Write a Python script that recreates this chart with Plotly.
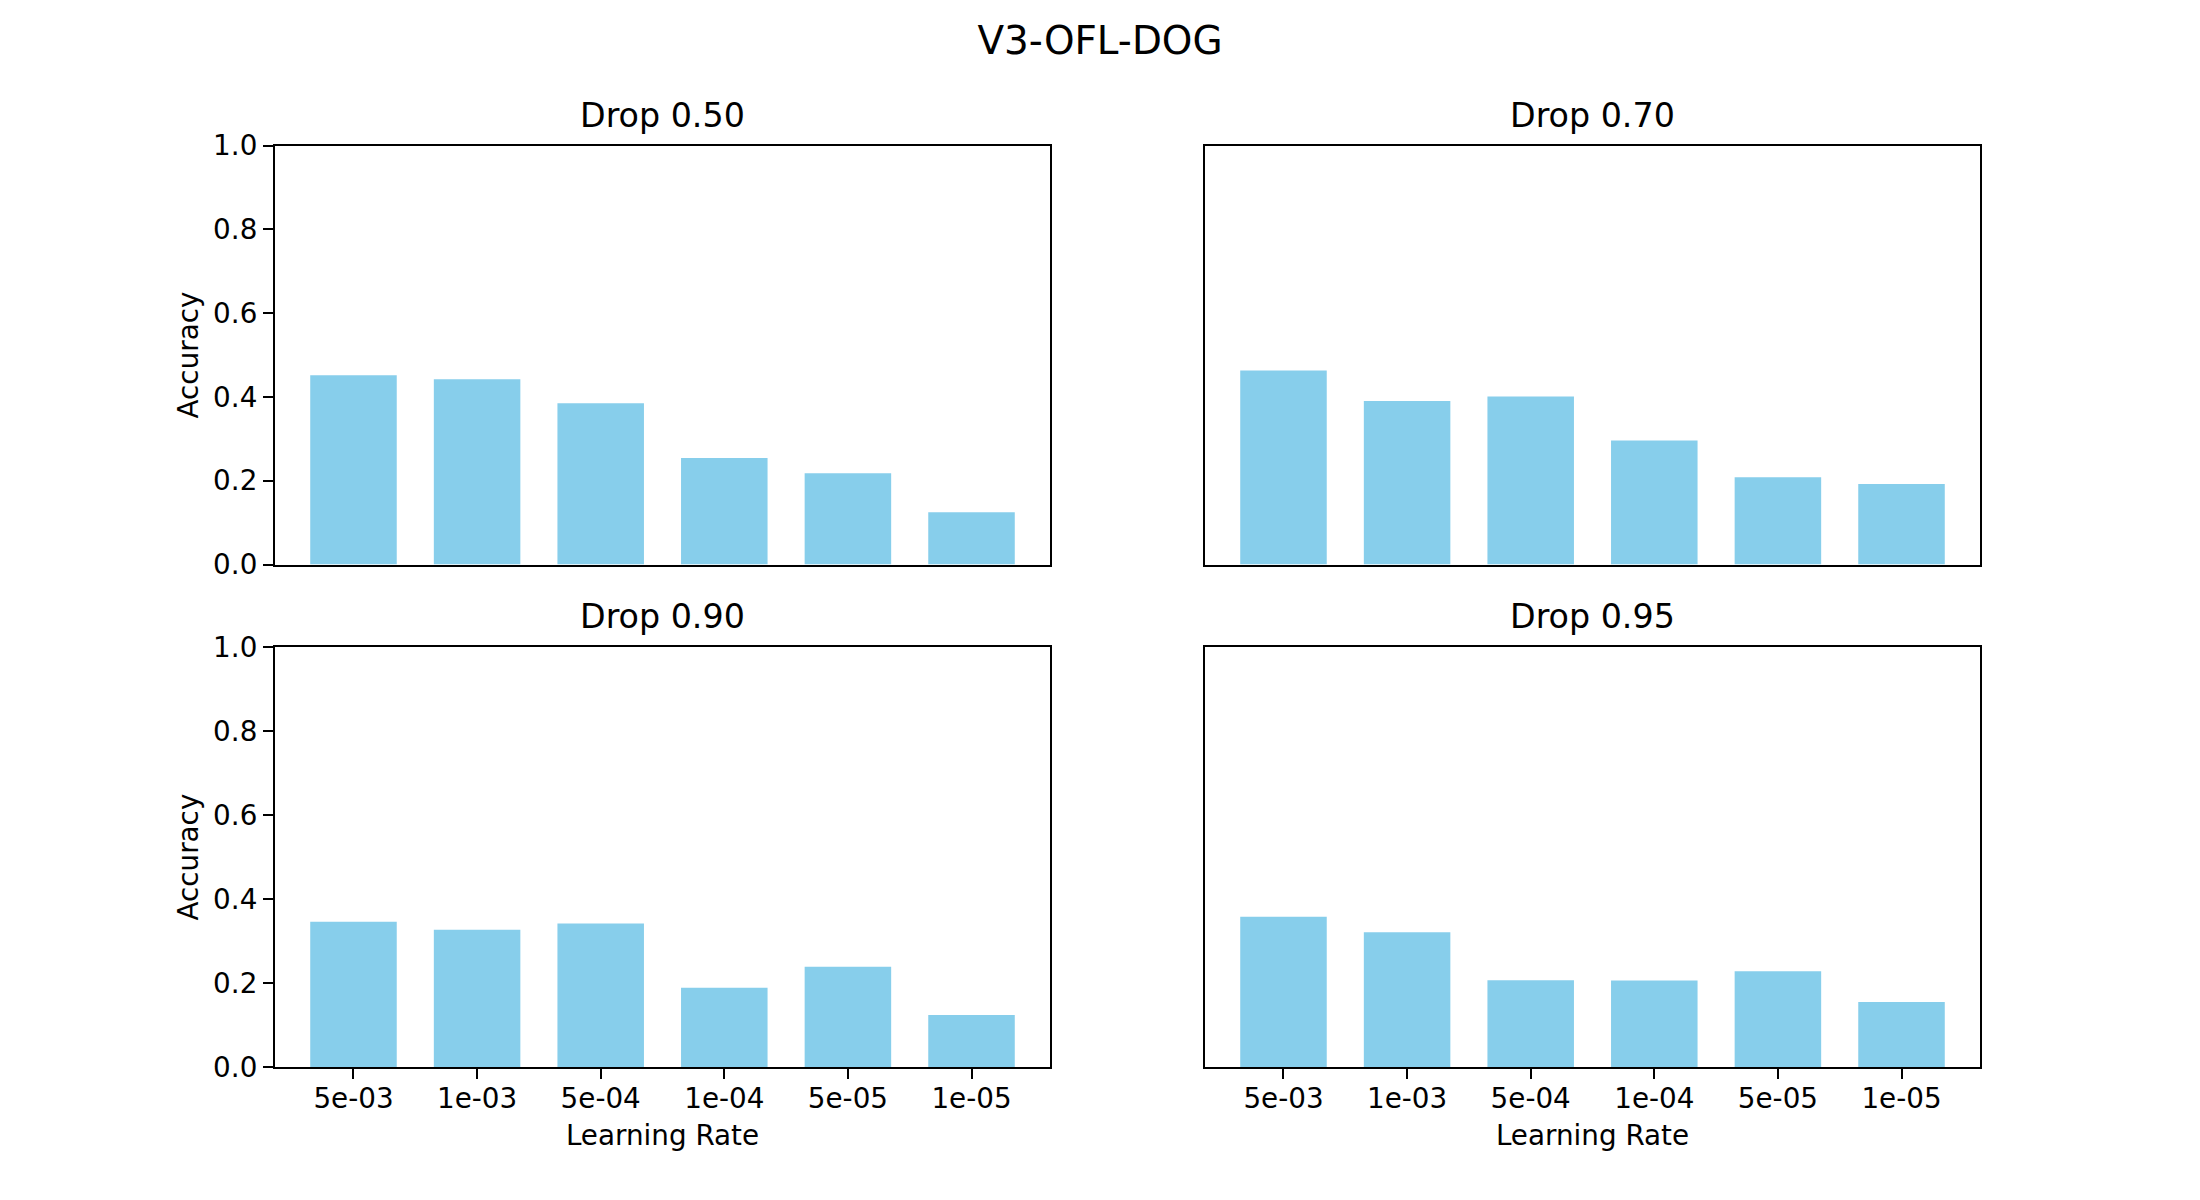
import plotly.graph_objects as go

# learning rates on the x axis
lr_labels = ["5e-03", "1e-03", "5e-04", "1e-04", "5e-05", "1e-05"]

# accuracy per dropout rate
acc_drop_050 = [0.452, 0.442, 0.385, 0.254, 0.218, 0.125]
acc_drop_070 = [0.463, 0.390, 0.401, 0.296, 0.208, 0.192]
acc_drop_090 = [0.346, 0.327, 0.342, 0.189, 0.239, 0.124]
acc_drop_095 = [0.358, 0.321, 0.207, 0.206, 0.228, 0.155]

panel_titles = ["Drop 0.50", "Drop 0.70", "Drop 0.90", "Drop 0.95"]
panel_values = [acc_drop_050, acc_drop_070, acc_drop_090, acc_drop_095]
y_ticks = [0.0, 0.2, 0.4, 0.6, 0.8, 1.0]

FONT = "DejaVu Sans"
BAR_COLOR = "#87CEEB"

# page is 2200x1200, body margin is 8px, so the figure itself is 16px smaller
PAGE_W, PAGE_H, BODY = 2200, 1200, 8
W, H = PAGE_W - 2 * BODY, PAGE_H - 2 * BODY


def px_x(p):
    return (p - BODY) / W


def px_y(p):
    return 1 - (p - BODY) / H


# axes boxes in page pixels
x_doms = [[px_x(275), px_x(1050)], [px_x(1205), px_x(1980)]]
y_doms = [[px_y(564), px_y(133)], [px_y(1081), px_y(649)]]

fig = go.Figure()
layout = {}
annotations = []

for i, (title, vals) in enumerate(zip(panel_titles, panel_values)):
    row, col = divmod(i, 2)
    n = i + 1
    xa = "x" if n == 1 else f"x{n}"
    ya = "y" if n == 1 else f"y{n}"
    fig.add_trace(go.Bar(
        x=lr_labels, y=vals, width=0.7,
        marker=dict(color=BAR_COLOR, line=dict(width=0)),
        xaxis=xa, yaxis=ya, showlegend=False,
    ))

    bottom = row == 1
    left = col == 0
    layout["xaxis" if n == 1 else f"xaxis{n}"] = dict(
        domain=x_doms[col], anchor=ya, type="category",
        range=[-0.635, 5.635],
        showline=True, mirror=True, linecolor="black", linewidth=2.2,
        showgrid=False, zeroline=False,
        ticks="outside" if bottom else "", ticklen=10, tickwidth=2.2,
        tickcolor="black",
        showticklabels=bottom, ticklabelstandoff=-5,
        tickfont=dict(family=FONT, size=27.8, color="black"),
        title=dict(text="Learning Rate" if bottom else "",
                   font=dict(family=FONT, size=27.8, color="black"),
                   standoff=12),
    )
    layout["yaxis" if n == 1 else f"yaxis{n}"] = dict(
        domain=y_doms[row], anchor=xa,
        range=[0, 1],
        tickvals=y_ticks, tickformat=".1f",
        showline=True, mirror=True, linecolor="black", linewidth=2.2,
        showgrid=False, zeroline=False,
        ticks="outside" if left else "", ticklen=10, tickwidth=2.2,
        tickcolor="black",
        showticklabels=left,
        tickfont=dict(family=FONT, size=27.8, color="black"),
        title=dict(text="Accuracy" if left else "",
                   font=dict(family=FONT, size=27.8, color="black"),
                   standoff=6),
    )
    annotations.append(dict(
        text=title, xref="paper", yref="paper",
        x=sum(x_doms[col]) / 2, y=y_doms[row][1],
        xanchor="center", yanchor="bottom", yshift=9,
        showarrow=False,
        font=dict(family=FONT, size=33.3, color="black"),
    ))

fig.update_layout(
    **layout,
    annotations=annotations,
    title=dict(text="V3-OFL-DOG", x=px_x(1100), xanchor="center",
               y=px_y(27), yanchor="top", yref="container",
               font=dict(family=FONT, size=38.9, color="black")),
    width=W, height=H,
    margin=dict(l=0, r=0, t=0, b=0),
    paper_bgcolor="white", plot_bgcolor="white",
    bargap=0.3,
)

fig.write_html("out.html")
